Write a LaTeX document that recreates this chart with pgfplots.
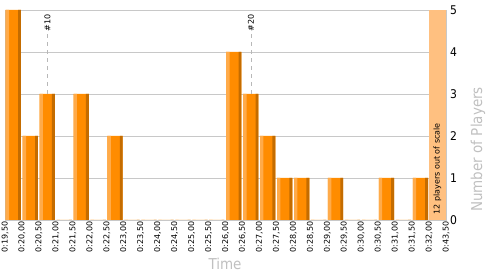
\documentclass[border=0pt]{standalone}
\usepackage{fontspec}
\setmainfont{DejaVu Sans}
\newfontfamily\condfont{DejaVu Sans Condensed}
\usepackage{pgfplots}
\usepackage{pgfplotstable}
\pgfplotsset{compat=1.18}
\definecolor{mainor}{HTML}{FF8C00}
\definecolor{lightor}{HTML}{FFAB4A}
\definecolor{darkor}{HTML}{C46C00}
\definecolor{outsc}{HTML}{FFC080}
\definecolor{gridc}{HTML}{C8C8C8}
\definecolor{labelc}{HTML}{C0C0C0}
\pgfplotstableread{
x y
0 5
1 2
2 3
3 0
4 3
5 0
6 2
7 0
8 0
9 0
10 0
11 0
12 0
13 4
14 3
15 2
16 1
17 1
18 0
19 1
20 0
21 0
22 1
23 0
24 1
}\bins
\pgfplotstableread{
x y
25 5
}\outscale
\begin{document}
\begin{tikzpicture}
\useasboundingbox (0,0) rectangle (500pt,275pt);
\begin{axis}[
  at={(5pt,55pt)}, anchor=south west,
  width=441pt, height=210pt, scale only axis,
  xmin=0, xmax=26, ymin=0, ymax=5,
  clip=false,
  xtick={0,...,26},
  xticklabels={{0:19,50},{0:20,00},{0:20,50},{0:21,00},{0:21,50},{0:22,00},{0:22,50},{0:23,00},{0:23,50},{0:24,00},{0:24,50},{0:25,00},{0:25,50},{0:26,00},{0:26,50},{0:27,00},{0:27,50},{0:28,00},{0:28,50},{0:29,00},{0:29,50},{0:30,00},{0:30,50},{0:31,00},{0:31,50},{0:32,00},{0:43,50}},
  xticklabel style={rotate=90, anchor=east, font=\fontsize{8}{9}\selectfont, inner sep=1.5pt},
  ytick={0,...,5},
  yticklabel pos=right,
  yticklabel style={font=\condfont\fontsize{12}{13}\selectfont, anchor=west, inner sep=4pt},
  /pgf/number format/assume math mode=true,
  major tick length=0pt,
  ymajorgrids,
  grid style={color=gridc, line width=0.8pt},
  axis line style={color=gridc, line width=0.8pt},
]
\addplot[ybar, bar width=0.9, bar shift=0.49, fill=mainor, draw=none] table[x=x,y=y] {\bins};
\addplot[ybar, bar width=0.2, bar shift=0.14, fill=lightor, draw=none] table[x=x,y=y] {\bins};
\addplot[ybar, bar width=0.17, bar shift=0.855, fill=darkor, draw=none] table[x=x,y=y] {\bins};
\addplot[ybar, bar width=0.96, bar shift=0.5, fill=outsc, draw=none] table[x=x,y=y] {\outscale};
\addplot[color=black!28, line width=0.8pt, dash pattern=on 4pt off 4pt] coordinates {(2.5,3) (2.5,4.52)};
\addplot[color=black!28, line width=0.8pt, dash pattern=on 4pt off 4pt] coordinates {(14.5,3) (14.5,4.52)};
\node[rotate=90, anchor=east, inner sep=0pt, font=\fontsize{8}{9}\selectfont] at (axis cs:2.5,4.9) {\#10};
\node[rotate=90, anchor=east, inner sep=0pt, font=\fontsize{8}{9}\selectfont] at (axis cs:14.5,4.9) {\#20};
\node[rotate=90, anchor=west, inner sep=0pt, font=\fontsize{8}{9}\selectfont] at (axis cs:25.5,0.13) {12 players out of scale};
\end{axis}
\node[rotate=90, anchor=west, inner sep=0pt, text=labelc, font=\condfont\fontsize{15}{16}\selectfont] at (478pt,63pt) {Number of Players};
\node[inner sep=0pt, text=labelc, font=\condfont\fontsize{15}{16}\selectfont] at (225pt,11pt) {Time};
\end{tikzpicture}
\end{document}
